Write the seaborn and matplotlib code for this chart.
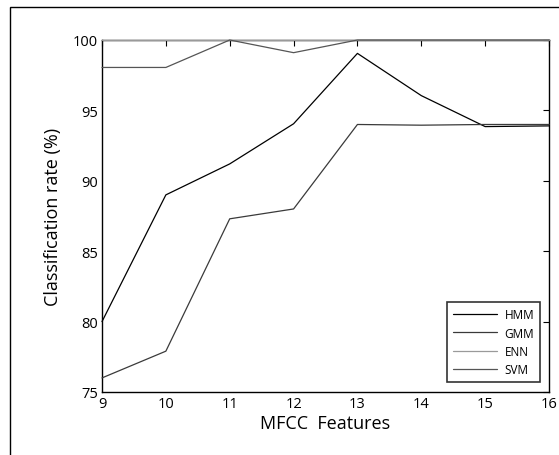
import numpy as np
import pandas as pd
import seaborn as sns
import matplotlib.pyplot as plt
from matplotlib.patches import Rectangle

features = [9, 10, 11, 12, 13, 14, 15, 16]
hmm = [80.0, 89.0, 91.2, 94.05, 99.05, 96.05, 93.85, 93.9]
gmm = [76.0, 77.9, 87.3, 88.0, 94.0, 93.95, 94.0, 94.0]
enn = [100, 100, 100, 100, 100, 100, 100, 100]
svm = [98.05, 98.05, 100, 99.1, 100, 100, 100, 100]

series_names = ["HMM", "GMM", "ENN", "SVM"]
series_colors = ["#000000", "#3a3a3a", "#9a9a9a", "#555555"]

df = pd.DataFrame({
    "feature": features * 4,
    "rate": hmm + gmm + enn + svm,
    "model": np.repeat(series_names, len(features)),
})

sns.set_style("white")
plt.rcParams['font.family'] = ['Open Sans', 'DejaVu Sans']
plt.rcParams['text.color'] = 'black'
plt.rcParams['axes.labelcolor'] = 'black'

fig = plt.figure(figsize=(5.59, 4.56), dpi=100)
ax = fig.add_axes([102 / 559, 1 - 393 / 456, 447 / 559, 352 / 456])

sns.lineplot(data=df, x="feature", y="rate", hue="model", hue_order=series_names,
             palette=dict(zip(series_names, series_colors)), linewidth=0.9,
             ax=ax, clip_on=False, zorder=3)

ax.set_xlim(9, 16)
ax.set_ylim(75, 100)
ax.set_xticks(features)
ax.set_yticks([75, 80, 85, 90, 95, 100])
ax.tick_params(direction='in', top=True, right=True, length=4, width=0.8,
               labelsize=10.5, pad=3, colors='black')
for s in ax.spines.values():
    s.set_color('black')
    s.set_linewidth(1.0)

ax.set_xlabel("MFCC  Features", fontsize=13, labelpad=2)
ax.set_ylabel("Classification rate (%)", fontsize=13, labelpad=8)

leg = ax.legend(loc="lower right", fontsize=8.5, frameon=True, fancybox=False,
                handlelength=3.8, handletextpad=0.6, borderpad=0.5,
                labelspacing=0.45, borderaxespad=0,
                bbox_to_anchor=(0.98, 0.028))
leg.get_frame().set_edgecolor('black')
leg.get_frame().set_linewidth(1.2)
for line in leg.get_lines():
    line.set_linewidth(0.9)

# outer frame around the figure
fig.patches.append(Rectangle((10 / 559, -0.1), 1.1, 1 - 8 / 456 + 0.1,
                             transform=fig.transFigure, fill=False,
                             edgecolor='black', linewidth=1.0))

fig.savefig("out.png", dpi=100)
